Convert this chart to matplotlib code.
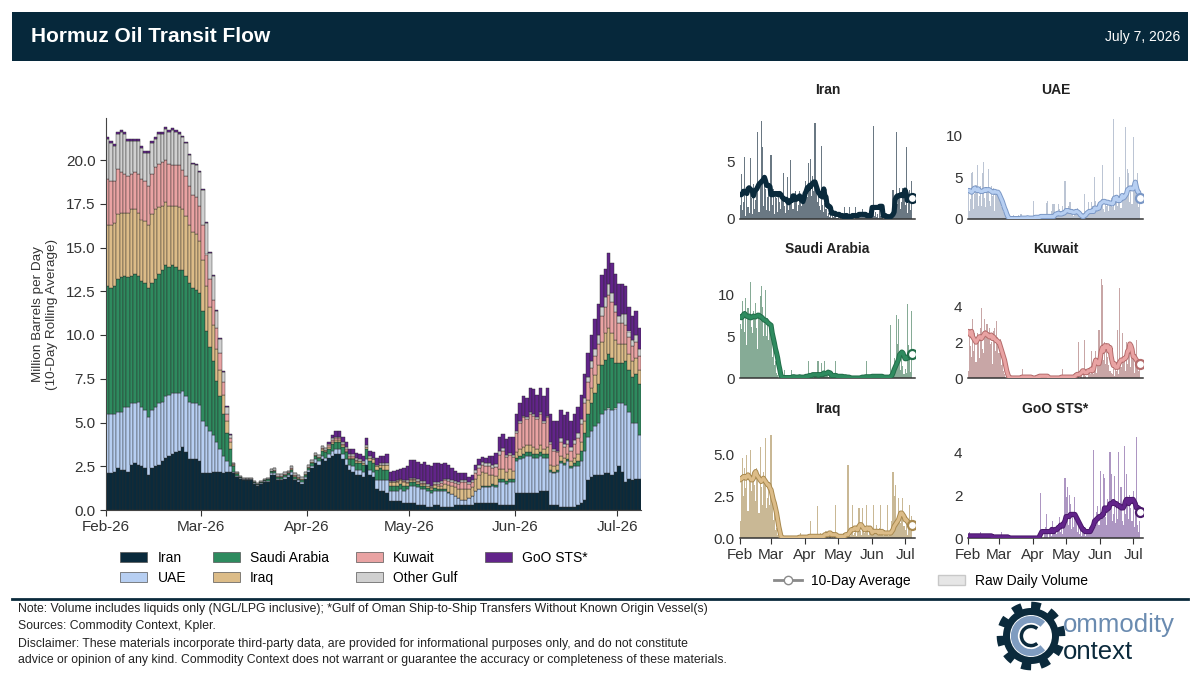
import matplotlib
matplotlib.use('Agg')
import matplotlib.pyplot as plt
import matplotlib.dates as mdates
import matplotlib.patheffects as pe
from matplotlib.patches import Rectangle, Patch, Polygon, Circle, Arc
from matplotlib.lines import Line2D
from matplotlib.ticker import FormatStrFormatter
import numpy as np
import pandas as pd

plt.rcParams['font.family'] = ['Liberation Sans', 'DejaVu Sans']

# daily axis, Feb 1 to Jul 7 2026
dates = pd.date_range('2026-02-01', '2026-07-07', freq='D')

# 10-day rolling averages (mb/d), one line per month: Feb, Mar, Apr, May, Jun, Jul
iran_avg = [
    2.1, 2.1, 2.2, 2.4, 2.3, 2.3, 2.2, 2.6, 2.7, 2.6, 2.5, 2.4, 2.0, 2.4, 2.5, 2.6, 2.8, 3.0, 3.1, 3.2, 3.3, 3.4, 3.6, 3.3, 2.9, 2.9, 2.9, 2.8,
    2.1, 2.1, 2.1, 2.2, 2.2, 2.2, 2.1, 2.2, 2.2, 2.1, 1.9, 1.8, 1.7, 1.7, 1.7, 1.5, 1.4, 1.5, 1.6, 1.6, 2.0, 2.0, 1.7, 1.7, 1.8, 1.9, 2.0, 1.7, 1.6, 1.5, 1.8,
    2.2, 2.4, 2.7, 2.6, 2.9, 2.8, 3.0, 3.1, 3.2, 3.2, 2.9, 2.6, 2.3, 2.2, 2.0, 2.0, 1.9, 2.6, 2.0, 1.9, 1.2, 1.1, 1.1, 1.0, 0.5, 0.5, 0.5, 0.5, 0.4, 0.4,
    0.4, 0.4, 0.3, 0.3, 0.3, 0.2, 0.2, 0.3, 0.3, 0.2, 0.2, 0.2, 0.2, 0.3, 0.3, 0.3, 0.3, 0.3, 0.3, 0.4, 0.4, 0.4, 0.4, 0.4, 0.4, 0.4, 0.3, 0.3, 0.3, 0.3, 0.3,
    1.0, 1.0, 1.0, 1.0, 1.0, 1.0, 1.0, 1.1, 1.1, 1.1, 0.3, 0.3, 0.3, 0.2, 0.2, 0.2, 0.2, 0.2, 0.3, 0.4, 0.6, 1.7, 1.9, 2.0, 2.0, 2.0, 2.1, 2.1, 2.0, 2.2,
    2.5, 2.2, 1.6, 1.8, 1.7, 1.8, 1.8,
]
uae_avg = [
    3.4, 3.4, 3.3, 3.2, 3.3, 3.6, 3.7, 3.5, 3.4, 3.6, 3.4, 3.3, 3.3, 3.3, 3.4, 3.5, 3.4, 3.5, 3.5, 3.5, 3.4, 3.3, 3.2, 3.2, 3.3, 3.2, 3.2, 3.2,
    3.0, 2.7, 2.4, 2.1, 1.7, 1.3, 1.0, 0.6, 0.3, 0.1, 0.05, 0.05, 0.05, 0.05, 0.05, 0.05, 0.05, 0.05, 0.05, 0.05, 0.1, 0.1, 0.1, 0.1, 0.1, 0.1, 0.15, 0.1, 0.1, 0.1, 0.1,
    0.1, 0.1, 0.2, 0.2, 0.2, 0.2, 0.2, 0.3, 0.3, 0.3, 0.3, 0.3, 0.3, 0.3, 0.3, 0.3, 0.3, 0.3, 0.3, 0.3, 0.5, 0.6, 0.6, 0.7, 0.6, 0.6, 0.6, 0.7, 0.7, 0.8,
    1.0, 1.0, 1.0, 0.9, 0.9, 0.9, 0.8, 0.8, 0.8, 0.9, 0.9, 0.8, 0.7, 0.5, 0.4, 0.3, 0.3, 0.4, 0.5, 0.7, 0.8, 0.9, 0.9, 0.9, 1.0, 0.9, 1.3, 1.3, 1.2, 1.3, 1.3,
    1.8, 1.9, 2.0, 2.1, 2.1, 2.0, 2.0, 2.0, 1.9, 1.9, 1.9, 1.8, 1.9, 2.5, 2.4, 2.6, 2.2, 2.3, 2.2, 2.4, 2.8, 2.5, 2.6, 2.8, 3.0, 3.5, 3.6, 3.7, 3.7, 3.6,
    3.6, 3.9, 4.4, 3.8, 3.3, 3.2, 2.5,
]
saudi_avg = [
    7.3, 7.2, 7.3, 7.6, 7.7, 7.5, 7.4, 7.3, 7.4, 7.2, 7.2, 7.3, 7.4, 7.3, 7.3, 7.4, 7.5, 7.5, 7.3, 7.3, 7.2, 7.0, 6.9, 6.9, 6.8, 6.6, 6.5, 6.4,
    6.3, 5.4, 4.8, 4.2, 3.5, 3.0, 2.4, 1.6, 1.0, 0.3, 0.1, 0.05, 0.05, 0.05, 0.05, 0.05, 0.05, 0.05, 0.05, 0.1, 0.15, 0.15, 0.1, 0.1, 0.1, 0.1, 0.15, 0.1, 0.1, 0.1, 0.1,
    0.1, 0.2, 0.2, 0.2, 0.3, 0.3, 0.3, 0.4, 0.4, 0.4, 0.4, 0.4, 0.3, 0.4, 0.4, 0.4, 0.4, 0.6, 0.5, 0.5, 0.6, 0.7, 0.6, 0.6, 0.3, 0.3, 0.3, 0.3, 0.3, 0.2,
    0.2, 0.2, 0.2, 0.2, 0.2, 0.15, 0.15, 0.15, 0.1, 0.1, 0.1, 0.05, 0.0, 0.0, 0.0, 0.0, 0.0, 0.0, 0.0, 0.0, 0.0, 0.05, 0.1, 0.1, 0.1, 0.15, 0.15, 0.15, 0.15, 0.15, 0.15,
    0.2, 0.2, 0.2, 0.2, 0.2, 0.2, 0.2, 0.2, 0.2, 0.2, 0.1, 0.1, 0.1, 0.1, 0.1, 0.1, 0.1, 0.2, 0.3, 0.6, 1.0, 1.3, 1.6, 1.9, 2.2, 2.8, 2.9, 3.1, 3.0, 2.6,
    2.3, 2.3, 2.5, 2.4, 2.6, 2.8, 2.9,
]
iraq_avg = [
    3.5, 3.6, 3.6, 3.7, 3.7, 3.6, 3.7, 3.8, 3.7, 3.6, 3.5, 3.5, 3.6, 3.9, 4.0, 3.8, 3.7, 3.6, 3.5, 3.4, 3.5, 3.6, 3.5, 3.4, 3.3, 3.2, 3.2, 3.0,
    2.9, 2.6, 2.3, 2.1, 1.8, 1.5, 1.1, 0.7, 0.4, 0.1, 0.05, 0.0, 0.0, 0.0, 0.0, 0.0, 0.0, 0.0, 0.0, 0.0, 0.0, 0.0, 0.0, 0.0, 0.0, 0.0, 0.05, 0.05, 0.05, 0.05, 0.05,
    0.05, 0.05, 0.05, 0.05, 0.1, 0.1, 0.1, 0.1, 0.1, 0.1, 0.1, 0.1, 0.1, 0.1, 0.1, 0.1, 0.1, 0.1, 0.2, 0.2, 0.2, 0.2, 0.3, 0.3, 0.2, 0.2, 0.2, 0.2, 0.2, 0.15,
    0.1, 0.1, 0.1, 0.1, 0.1, 0.1, 0.1, 0.2, 0.2, 0.2, 0.3, 0.4, 0.5, 0.5, 0.5, 0.6, 0.6, 0.5, 0.5, 0.7, 0.8, 0.8, 0.7, 0.6, 0.5, 0.5, 0.6, 0.6, 0.5, 0.6, 0.5,
    0.3, 0.4, 0.4, 0.4, 0.4, 0.4, 0.3, 0.4, 0.3, 0.4, 0.3, 0.3, 0.3, 0.3, 0.3, 0.3, 0.3, 0.3, 0.4, 0.5, 0.7, 0.8, 0.9, 1.0, 1.1, 1.3, 1.5, 1.5, 1.4, 1.3,
    1.1, 1.1, 1.0, 0.9, 0.9, 0.9, 0.8,
]
kuwait_avg = [
    2.6, 2.5, 2.4, 2.6, 2.3, 2.2, 2.1, 2.0, 2.1, 2.2, 2.3, 2.3, 2.2, 2.3, 2.4, 2.5, 2.5, 2.4, 2.4, 2.3, 2.3, 2.4, 2.2, 2.3, 2.2, 2.1, 2.1, 2.0,
    2.0, 1.8, 1.6, 1.4, 1.2, 1.0, 0.7, 0.4, 0.2, 0.05, 0.0, 0.0, 0.0, 0.0, 0.0, 0.0, 0.0, 0.0, 0.0, 0.0, 0.0, 0.05, 0.05, 0.05, 0.05, 0.05, 0.05, 0.05, 0.05, 0.05, 0.0,
    0.0, 0.0, 0.0, 0.0, 0.05, 0.05, 0.1, 0.1, 0.1, 0.1, 0.1, 0.1, 0.1, 0.1, 0.05, 0.0, 0.0, 0.0, 0.0, 0.0, 0.0, 0.0, 0.0, 0.0, 0.0, 0.0, 0.05, 0.05, 0.05, 0.05,
    0.05, 0.05, 0.05, 0.05, 0.05, 0.05, 0.05, 0.05, 0.1, 0.15, 0.2, 0.2, 0.2, 0.25, 0.3, 0.4, 0.4, 0.3, 0.3, 0.3, 0.4, 0.4, 0.4, 0.5, 0.4, 0.5, 0.8, 1.0, 0.9, 0.8, 0.8,
    1.1, 1.5, 1.7, 1.5, 1.8, 1.8, 1.7, 1.8, 1.5, 1.7, 1.2, 0.9, 0.7, 0.8, 0.6, 0.6, 0.6, 0.8, 0.9, 1.0, 1.0, 1.0, 1.1, 1.1, 1.2, 1.5, 1.5, 1.9, 1.8, 1.6,
    1.2, 1.2, 1.1, 1.0, 0.9, 0.9, 0.8,
]
other_avg = [
    2.3, 2.2, 2.0, 2.0, 2.3, 2.3, 2.0, 1.9, 1.8, 1.9, 1.8, 1.6, 1.9, 1.8, 1.6, 1.7, 1.6, 1.8, 1.8, 2.0, 1.9, 1.8, 1.9, 1.9, 1.8, 1.8, 1.8, 1.9,
    2.0, 1.8, 1.5, 1.4, 1.0, 0.8, 0.6, 0.4, 0.2, 0.05, 0.05, 0.05, 0.05, 0.05, 0.05, 0.05, 0.05, 0.05, 0.05, 0.1, 0.1, 0.1, 0.1, 0.1, 0.1, 0.1, 0.1, 0.1, 0.1, 0.1, 0.1,
    0.1, 0.1, 0.1, 0.1, 0.1, 0.1, 0.1, 0.1, 0.1, 0.1, 0.1, 0.1, 0.1, 0.1, 0.1, 0.1, 0.1, 0.1, 0.1, 0.1, 0.1, 0.1, 0.1, 0.1, 0.05, 0.05, 0.05, 0.05, 0.05, 0.1,
    0.1, 0.1, 0.1, 0.1, 0.1, 0.1, 0.1, 0.1, 0.1, 0.1, 0.1, 0.1, 0.1, 0.1, 0.1, 0.1, 0.1, 0.1, 0.1, 0.2, 0.2, 0.2, 0.2, 0.2, 0.2, 0.2, 0.2, 0.2, 0.1, 0.1, 0.1,
    0.1, 0.1, 0.1, 0.1, 0.1, 0.1, 0.1, 0.1, 0.1, 0.1, 0.1, 0.1, 0.1, 0.2, 0.2, 0.2, 0.2, 0.2, 0.3, 0.3, 0.3, 0.3, 0.4, 0.4, 0.5, 0.5, 0.6, 0.6, 0.5, 0.4,
    0.4, 0.5, 0.6, 0.3, 0.3, 0.4, 0.4,
]
goo_avg = [
    0.1, 0.1, 0.1, 0.1, 0.1, 0.1, 0.1, 0.1, 0.1, 0.1, 0.1, 0.1, 0.1, 0.1, 0.1, 0.1, 0.1, 0.1, 0.1, 0.1, 0.1, 0.1, 0.05, 0.05, 0.05, 0.05, 0.05, 0.05,
    0.05, 0.05, 0.05, 0.05, 0.05, 0.05, 0.05, 0.05, 0.05, 0.0, 0.0, 0.0, 0.0, 0.0, 0.0, 0.0, 0.0, 0.0, 0.0, 0.0, 0.0, 0.0, 0.0, 0.0, 0.0, 0.0, 0.0, 0.0, 0.0, 0.0, 0.0,
    0.0, 0.0, 0.0, 0.0, 0.0, 0.0, 0.1, 0.2, 0.3, 0.3, 0.3, 0.3, 0.3, 0.3, 0.3, 0.3, 0.3, 0.4, 0.3, 0.3, 0.4, 0.4, 0.4, 0.5, 0.5, 0.6, 0.6, 0.55, 0.7, 0.8,
    1.0, 1.0, 1.0, 1.0, 1.1, 1.1, 1.1, 1.1, 1.1, 1.0, 0.9, 0.8, 0.7, 0.6, 0.5, 0.4, 0.4, 0.3, 0.3, 0.3, 0.3, 0.3, 0.3, 0.4, 0.5, 0.6, 0.8, 0.8, 0.9, 0.9, 1.0,
    1.0, 1.0, 1.1, 1.1, 1.4, 1.4, 1.3, 1.4, 1.4, 1.6, 1.6, 1.6, 1.7, 1.6, 1.6, 1.6, 1.5, 1.5, 1.5, 1.4, 1.4, 1.4, 1.5, 1.7, 1.8, 1.8, 1.6, 1.8, 1.7, 1.8,
    1.8, 1.7, 1.6, 1.4, 1.4, 1.4, 1.2,
]

# raw daily volumes (mb/d) for the small panels
iran_raw = [
    1.2, 3.9, 0.8, 1.5, 5.4, 0.3, 2.2, 1.0, 0.5, 5.3, 1.8, 0.4, 3.0, 0.9, 1.6, 2.4, 7.5, 0.6, 2.9, 8.5, 6.2, 1.1, 3.4, 2.6, 0.8, 1.9, 2.3, 0.7,
    5.5, 1.2, 2.6, 0.4, 2.1, 1.8, 0.6, 2.4, 1.5, 0.9, 1.7, 4.0, 1.1, 0.5, 1.3, 3.6, 0.8, 1.2, 5.1, 1.4, 0.9, 1.6, 2.4, 1.9, 0.7, 1.2, 2.4, 2.0, 1.1, 1.8, 2.2,
    3.3, 2.6, 1.9, 4.8, 3.1, 5.2, 2.0, 3.7, 2.4, 8.3, 3.0, 1.5, 2.2, 1.1, 0.8, 6.3, 1.2, 0.6, 1.4, 0.9, 0.3, 0.5, 0.2, 0.6, 0.1, 0.4, 0.2, 0.3, 0.5, 0.1,
    0.2, 0.0, 0.4, 0.1, 0.0, 0.3, 1.0, 0.1, 0.0, 0.2, 1.0, 0.0, 0.3, 0.1, 0.2, 0.0, 1.0, 0.4, 0.1, 0.3, 0.5, 0.2, 0.9, 0.4, 0.3, 0.6, 0.2, 0.4, 0.1, 0.3, 0.2,
    0.5, 8.0, 0.3, 0.6, 0.2, 0.4, 0.1, 1.0, 0.3, 1.0, 0.0, 0.2, 0.0, 0.1, 0.3, 0.0, 0.2, 0.1, 0.4, 2.5, 1.1, 0.6, 7.5, 1.3, 2.0, 2.7, 0.9, 1.5, 2.7, 1.8,
    1.2, 6.2, 0.5, 1.4, 2.5, 0.8, 3.3,
]
uae_raw = [
    3.6, 1.0, 2.4, 5.5, 5.6, 1.2, 3.0, 4.1, 6.5, 1.5, 2.8, 3.9, 1.6, 5.5, 6.8, 2.5, 1.4, 3.5, 6.0, 2.2, 1.6, 3.9, 2.7, 3.7, 1.0, 3.3, 3.0, 2.8,
    2.5, 3.2, 1.4, 2.0, 0.8, 0.6, 0.3, 0.1, 0.0, 0.0, 0.0, 0.0, 0.0, 0.5, 0.0, 0.0, 0.2, 0.0, 0.5, 0.3, 0.6, 0.2, 0.0, 0.1, 0.3, 0.2, 0.0, 0.4, 0.1, 0.2, 0.3,
    2.2, 0.1, 0.3, 0.0, 0.4, 0.2, 0.1, 0.3, 0.0, 0.5, 0.2, 0.3, 1.9, 2.1, 0.2, 0.0, 0.4, 1.0, 1.8, 1.8, 0.3, 0.6, 0.9, 1.8, 1.2, 0.4, 0.8, 1.5, 0.7, 4.5,
    1.1, 0.8, 1.5, 2.0, 2.0, 0.6, 1.2, 0.4, 1.0, 0.7, 1.3, 0.5, 0.2, 0.1, 0.0, 0.3, 0.2, 3.0, 0.1, 0.4, 2.0, 0.8, 1.1, 2.0, 1.6, 0.9, 5.0, 2.2, 1.4, 1.8, 1.2,
    1.5, 2.4, 6.5, 1.2, 0.8, 2.0, 1.6, 2.2, 1.0, 1.8, 2.5, 1.4, 12.0, 1.1, 2.6, 2.0, 1.5, 2.8, 5.0, 1.3, 2.2, 3.0, 2.4, 11.0, 3.2, 6.0, 5.5, 2.0, 3.6, 1.8,
    9.8, 3.4, 4.2, 2.6, 5.5, 1.4, 2.0,
]
saudi_raw = [
    6.5, 5.8, 9.2, 7.0, 5.5, 9.5, 4.0, 8.4, 7.2, 11.5, 6.1, 5.4, 8.0, 7.0, 9.0, 6.0, 3.5, 7.6, 9.8, 11.0, 8.5, 5.0, 6.6, 10.5, 5.0, 7.2, 4.5, 6.0,
    6.2, 2.5, 4.8, 1.5, 2.0, 0.6, 0.3, 0.0, 0.2, 0.0, 0.0, 0.0, 1.0, 0.0, 0.0, 0.0, 0.0, 0.0, 0.0, 0.9, 0.0, 0.0, 0.0, 0.0, 0.0, 0.0, 0.0, 0.0, 0.0, 0.0, 0.0,
    0.0, 0.0, 0.3, 2.0, 0.1, 0.0, 0.4, 0.2, 0.0, 0.3, 0.5, 2.0, 2.0, 0.2, 0.1, 1.8, 0.3, 0.4, 2.0, 0.5, 0.2, 0.1, 0.6, 0.0, 0.3, 0.0, 0.1, 0.0, 2.0, 0.2,
    0.1, 0.0, 0.0, 0.2, 0.0, 0.0, 0.1, 0.0, 0.0, 0.0, 0.0, 0.0, 0.0, 0.0, 0.0, 0.0, 0.0, 0.0, 0.0, 0.0, 0.0, 0.0, 0.4, 0.0, 0.0, 0.3, 2.0, 0.2, 0.0, 0.0, 0.2,
    0.1, 0.2, 0.0, 0.4, 0.3, 0.0, 0.2, 0.1, 0.4, 0.0, 0.2, 0.1, 0.0, 0.3, 0.1, 0.0, 0.4, 6.3, 0.5, 1.2, 2.4, 0.8, 7.5, 4.1, 7.0, 3.2, 0.9, 2.6, 1.4, 0.5,
    1.1, 0.6, 8.8, 3.9, 2.2, 0.7, 8.0,
]
kuwait_raw = [
    0.4, 2.5, 1.8, 1.2, 3.3, 1.5, 2.5, 0.9, 2.5, 2.0, 1.1, 2.8, 3.9, 1.6, 1.4, 3.3, 2.7, 3.0, 2.2, 2.8, 1.9, 2.0, 0.8, 2.6, 2.8, 1.5, 3.2, 2.3,
    1.4, 2.2, 0.7, 1.0, 0.4, 0.2, 0.0, 0.0, 0.0, 0.0, 0.0, 0.0, 0.0, 0.0, 0.0, 0.0, 0.0, 0.0, 0.0, 0.0, 0.0, 0.5, 0.1, 0.1, 0.1, 0.0, 0.0, 0.0, 0.0, 0.0, 0.0,
    0.0, 0.0, 0.0, 0.0, 0.0, 0.0, 0.0, 0.0, 0.0, 0.0, 0.0, 0.0, 0.0, 0.0, 0.0, 0.0, 0.0, 0.0, 0.0, 0.0, 0.0, 0.0, 0.0, 0.0, 0.0, 0.0, 0.0, 0.5, 0.0, 0.0,
    0.0, 0.0, 0.1, 0.0, 0.0, 0.0, 0.1, 0.0, 0.3, 0.0, 0.2, 2.0, 0.0, 0.1, 0.2, 0.0, 0.4, 2.1, 0.1, 0.0, 0.3, 0.5, 0.2, 1.5, 0.4, 0.2, 0.7, 1.5, 0.3, 0.8, 2.7,
    0.9, 5.5, 5.2, 1.0, 2.0, 0.8, 1.6, 1.2, 0.7, 0.4, 0.3, 0.2, 0.5, 0.1, 0.6, 0.4, 2.7, 0.2, 5.0, 0.6, 2.5, 0.9, 1.3, 0.4, 2.0, 0.8, 1.2, 2.0, 0.6, 1.1,
    1.4, 0.3, 0.8, 2.1, 0.5, 0.4, 0.6,
]
iraq_raw = [
    1.0, 3.4, 4.8, 2.5, 4.2, 3.0, 5.0, 1.6, 3.9, 5.3, 2.8, 3.7, 4.0, 3.2, 2.2, 4.2, 3.5, 1.5, 5.5, 3.1, 2.0, 4.0, 3.6, 6.0, 1.8, 2.4, 3.3, 2.0,
    6.2, 2.8, 1.1, 2.0, 0.5, 0.6, 0.2, 0.0, 0.1, 0.0, 0.0, 0.0, 0.0, 0.0, 0.0, 0.0, 0.0, 0.0, 0.0, 0.0, 0.0, 0.0, 0.0, 0.0, 0.0, 0.0, 0.0, 0.3, 0.0, 0.2, 0.0,
    0.0, 0.1, 0.0, 0.0, 0.2, 1.0, 0.0, 0.1, 0.0, 0.2, 0.0, 1.9, 0.1, 0.0, 0.3, 0.0, 0.1, 0.2, 0.0, 0.4, 0.1, 0.0, 0.3, 0.2, 0.0, 0.1, 0.0, 0.2, 2.0, 0.1,
    0.0, 0.2, 0.0, 0.1, 0.0, 0.3, 0.0, 0.1, 0.2, 4.4, 0.3, 0.1, 0.4, 2.0, 0.2, 0.3, 0.5, 0.1, 0.6, 1.8, 0.4, 0.2, 1.8, 0.5, 0.3, 0.6, 2.0, 0.4, 0.2, 0.5, 0.3,
    0.4, 2.0, 0.5, 0.3, 0.8, 0.2, 0.4, 0.6, 2.0, 0.3, 0.1, 0.5, 0.2, 0.4, 2.0, 0.1, 0.3, 0.2, 1.0, 4.0, 2.5, 3.2, 1.1, 0.8, 2.4, 1.5, 0.9, 1.2, 2.4, 0.7,
    0.5, 1.3, 0.2, 0.6, 2.0, 0.4, 1.3,
]
goo_raw = [
    0.1, 0.3, 0.0, 0.1, 0.2, 0.0, 0.1, 0.0, 0.1, 0.0, 0.2, 0.3, 0.0, 0.1, 0.0, 0.1, 0.0, 0.0, 0.1, 0.0, 0.2, 0.0, 0.1, 0.0, 0.0, 0.1, 0.0, 0.0,
    0.1, 0.0, 0.3, 0.0, 0.1, 0.0, 0.0, 0.0, 0.0, 0.0, 0.0, 0.0, 0.0, 0.0, 0.0, 0.0, 0.0, 0.0, 0.0, 0.0, 0.0, 0.0, 0.0, 0.0, 0.0, 0.0, 0.0, 0.0, 0.0, 0.0, 0.0,
    0.0, 0.0, 0.0, 0.0, 0.0, 0.0, 0.0, 2.1, 0.1, 0.0, 0.2, 0.5, 1.1, 0.3, 0.0, 0.4, 0.2, 0.1, 0.8, 0.3, 0.5, 0.2, 0.6, 0.4, 1.0, 0.3, 0.7, 0.2, 0.9, 2.8,
    1.9, 2.4, 0.6, 2.0, 1.6, 0.4, 1.2, 0.5, 1.9, 0.8, 0.3, 0.6, 0.2, 0.5, 0.1, 0.3, 0.2, 0.4, 0.1, 0.3, 0.2, 0.5, 0.3, 0.6, 0.4, 4.1, 0.8, 0.5, 1.2, 1.5, 0.6,
    3.1, 0.9, 1.4, 3.0, 2.8, 1.0, 0.6, 1.8, 1.2, 4.0, 3.0, 0.8, 1.1, 2.9, 0.7, 1.5, 0.9, 4.0, 1.3, 2.4, 0.8, 0.6, 4.3, 1.1, 3.0, 1.6, 0.9, 2.0, 1.4, 0.8,
    2.2, 0.5, 1.2, 4.7, 0.6, 0.3, 0.8,
]

names = ['Iran', 'UAE', 'Saudi Arabia', 'Iraq', 'Kuwait', 'Other Gulf', 'GoO STS*']
stack = [iran_avg, uae_avg, saudi_avg, iraq_avg, kuwait_avg, other_avg, goo_avg]
colors = ['#0a2a3c', '#b7cff2', '#2e8b5f', '#dcbc88', '#e9a3a3', '#d0d0d0', '#62248a']

W, H = 1200, 685
NAVY = '#06283b'


def box(x0, y0, x1, y1):
    # pixel box (top-left origin) -> figure fraction rect
    return [x0 / W, 1 - y1 / H, (x1 - x0) / W, (y1 - y0) / H]


fig = plt.figure(figsize=(12, 6.85), dpi=100)

# header band
fig.add_artist(Rectangle((12 / W, 1 - 61 / H), 1176 / W, 49 / H, transform=fig.transFigure,
                         facecolor=NAVY, edgecolor='none'))
fig.text(31 / W, 1 - 37 / H, 'Hormuz Oil Transit Flow', color='white', fontsize=15,
         fontweight='bold', va='center')
fig.text(1180 / W, 1 - 37 / H, 'July 7, 2026', color='white', fontsize=10, ha='right', va='center')

# main stacked chart
ax = fig.add_axes(box(106, 118, 641, 510))
bottom = np.zeros(len(dates))
for name, vals, c in zip(names, stack, colors):
    vals = np.array(vals)
    ax.bar(dates, vals, width=1, align='edge', bottom=bottom, color=c,
           edgecolor='#2a2a2a', linewidth=0.3)
    bottom += vals

ax.set_xlim(pd.Timestamp('2026-02-01'), pd.Timestamp('2026-07-08'))
ax.set_ylim(0, 22.4)
ax.set_yticks(np.arange(0, 20.1, 2.5))
ax.yaxis.set_major_formatter(FormatStrFormatter('%.1f'))
ax.xaxis.set_major_locator(mdates.MonthLocator())
ax.xaxis.set_major_formatter(mdates.DateFormatter('%b-%y'))
for s in ['top', 'right']:
    ax.spines[s].set_visible(False)
for s in ['left', 'bottom']:
    ax.spines[s].set_color('#444444')
ax.tick_params(labelsize=11, colors='#333333', length=4)
ax.set_ylabel('Million Barrels per Day\n(10-Day Rolling Average)', fontsize=9.7, color='#333333',
              labelpad=6)

handles = [Patch(facecolor=c, edgecolor='#555555', linewidth=0.5) for c in colors]
fig.legend(handles, names, ncol=4, loc='center', bbox_to_anchor=(354 / W, 1 - 568 / H),
           frameon=False, fontsize=10, handlelength=1.95, handleheight=0.75,
           handletextpad=0.72, columnspacing=1.95, labelspacing=0.45)

# small multiples
panels = [
    ('Iran', iran_raw, iran_avg, '#0a2a3c', '#0a2a3c', '#6a7883', 8.9, [0, 5], '%d', 740, 219),
    ('UAE', uae_raw, uae_avg, '#b7cff2', '#7b98c6', '#bcc5d4', 12.3, [0, 5, 10], '%d', 968, 219),
    ('Saudi Arabia', saudi_raw, saudi_avg, '#2e8b5f', '#236e4a', '#86ab96', 12.3, [0, 5, 10], '%d', 740, 378),
    ('Kuwait', kuwait_raw, kuwait_avg, '#e9a3a3', '#b46c6c', '#c8a6a6', 5.75, [0, 2, 4], '%d', 968, 378),
    ('Iraq', iraq_raw, iraq_avg, '#dcbc88', '#a8894f', '#c9b895', 6.2, [0, 2.5, 5], '%.1f', 740, 538),
    ('GoO STS*', goo_raw, goo_avg, '#62248a', '#4b1a6b', '#ad96c2', 4.8, [0, 2, 4], '%d', 968, 538),
]
for title, raw, avg, lc, ec, rc, ytop, yt, fmt, x0, yb in panels:
    sa = fig.add_axes(box(x0, yb - 103, x0 + 175, yb))
    sa.bar(dates, raw, width=1.0, color=rc, linewidth=0, zorder=1)
    sa.plot(dates, avg, color=lc, lw=2.3, zorder=3, solid_capstyle='round',
            path_effects=[pe.Stroke(linewidth=3.7, foreground=ec), pe.Normal()])
    sa.plot(dates[-1:], avg[-1:], 'o', mfc='white', mec=ec, ms=6.5, mew=1.6, zorder=4)
    sa.set_xlim(pd.Timestamp('2026-01-31 18:00'), pd.Timestamp('2026-07-10'))
    sa.set_ylim(0, ytop)
    sa.set_yticks(yt)
    sa.yaxis.set_major_formatter(FormatStrFormatter(fmt))
    sa.set_title(title, fontsize=10, fontweight='bold', color='#222222', pad=16)
    for s in ['top', 'right', 'left']:
        sa.spines[s].set_visible(False)
    sa.spines['bottom'].set_color('#333333')
    sa.spines['bottom'].set_linewidth(1.1)
    sa.xaxis.set_major_locator(mdates.MonthLocator())
    sa.xaxis.set_major_formatter(mdates.DateFormatter('%b'))
    sa.tick_params(axis='y', length=0, labelsize=11, colors='#333333', pad=4)
    if yb == 538:
        sa.tick_params(axis='x', length=4, labelsize=11, colors='#333333')
    else:
        sa.tick_params(axis='x', length=0, labelbottom=False)

sm_handles = [Line2D([0], [0], color='#8a8a8a', lw=2, marker='o', mfc='white', mec='#8a8a8a', ms=6),
              Patch(facecolor='#e6e6e6', edgecolor='#c8c8c8')]
fig.legend(sm_handles, ['10-Day Average', 'Raw Daily Volume'], ncol=2, loc='center',
           bbox_to_anchor=(931 / W, 1 - 581 / H), frameon=False, fontsize=10,
           handlelength=2.0, handletextpad=0.7, columnspacing=1.9)

# footer
fig.add_artist(Line2D([12 / W, 1188 / W], [1 - 599 / H] * 2, transform=fig.transFigure,
                      color='#0b2a3c', lw=2))
notes = [
    'Note: Volume includes liquids only (NGL/LPG inclusive); *Gulf of Oman Ship-to-Ship Transfers Without Known Origin Vessel(s)',
    'Sources: Commodity Context, Kpler.',
    'Disclaimer: These materials incorporate third-party data, are provided for informational purposes only, and do not constitute',
    'advice or opinion of any kind. Commodity Context does not warrant or guarantee the accuracy or completeness of these materials.',
]
for txt, yy in zip(notes, [609, 626, 644, 660]):
    fig.text(18 / W, 1 - yy / H, txt, fontsize=8.85, color='#222222', va='center')

# logo
lg = fig.add_axes(box(996, 601, 1066, 671))
lg.set_xlim(-1, 1)
lg.set_ylim(-1, 1)
lg.set_aspect('equal')
lg.axis('off')
th = np.linspace(0, 2 * np.pi, 721)
rr = np.where(((th * 10 / (2 * np.pi)) % 1) < 0.5, 0.98, 0.8)
lg.add_patch(Polygon(np.column_stack([rr * np.cos(th), rr * np.sin(th)]), closed=True,
                     facecolor='#0b2a3c', edgecolor='none'))
lg.add_patch(Circle((0, 0), 0.6, facecolor='white', edgecolor='none'))
lg.add_patch(Arc((0, 0), 0.95, 0.95, theta1=45, theta2=315, lw=5, color='#7f9cc0'))
lg.add_patch(Arc((0, 0), 0.55, 0.55, theta1=50, theta2=310, lw=2.5, color='#0b2a3c'))
fig.text(1063 / W, 1 - 625 / H, 'ommodity', fontsize=18.5, color='#6a8bb0', va='center')
fig.text(1063 / W, 1 - 652 / H, 'ontext', fontsize=18.5, color='#0b2a3c', va='center')

fig.savefig('out.png', dpi=100)
